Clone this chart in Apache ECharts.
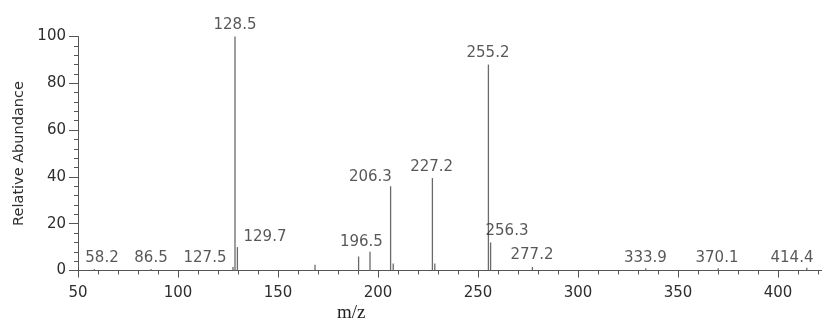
<!DOCTYPE html>
<html>
<head>
<meta charset="utf-8">
<script src="https://cdn.jsdelivr.net/npm/echarts@6/dist/echarts.min.js"></script>
<style>
html,body{margin:0;padding:0;background:#fff;}
#c{width:822px;height:329px;}
</style>
</head>
<body>
<div id="c"></div>
<script>
// Peaks (m/z, relative abundance)
var peakMz = [58.2, 86.5, 127.5, 128.5, 129.7, 168.5, 190.3, 196.0, 206.3, 207.6, 227.2, 228.4, 255.2, 256.3, 277.2, 333.9, 370.1, 414.4];
var peakAb = [0.6, 0.6, 1.5, 100, 10, 2.5, 6, 8, 36, 3, 39.5, 3, 88, 12, 1.5, 1, 1, 1.2];

// Peak annotation texts and where they sit (in m/z, abundance units)
var labelText = ["58.2", "86.5", "127.5", "128.5", "129.7", "196.5", "206.3", "227.2", "255.2", "256.3", "277.2", "333.9", "370.1", "414.4"];
var labelMz   = [62, 86.5, 113.5, 128.5, 143.5, 191.7, 196.2, 226.8, 255, 264.5, 277, 333.7, 369.5, 407];
var labelAb   = [5.3, 5.3, 5.3, 105, 14.3, 12.2, 40, 44.2, 92.8, 16.8, 6.6, 5.3, 5.3, 5.3];

// Axis ticks
var xTicks = { min: 50, max: 422, interval: 50 };
var yTicks = { min: 0, max: 100, interval: 20 };

var peakData = peakMz.map(function (m, i) { return [m, peakAb[i]]; });
var labelData = labelText.map(function (t, i) { return [labelMz[i], labelAb[i], t]; });

var axisColor = '#555';
var textColor = '#2e2e2e';
var font = 'DejaVu Sans';

var chart = echarts.init(document.getElementById('c'), null, { renderer: 'canvas' });
chart.setOption({
  animation: false,
  backgroundColor: '#fff',
  grid: { left: 78, right: 0, top: 36.5, bottom: 58.5, containLabel: false },
  xAxis: {
    type: 'value',
    min: xTicks.min, max: xTicks.max, interval: xTicks.interval,
    axisLine: { show: true, lineStyle: { color: axisColor, width: 1 } },
    axisTick: { show: true, length: 7, lineStyle: { color: axisColor } },
    minorTick: { show: true, splitNumber: 5, length: 4, lineStyle: { color: axisColor } },
    axisLabel: {
      color: textColor, fontFamily: font, fontSize: 15, margin: 15,
      showMaxLabel: false,
      formatter: function (v) { return v % xTicks.interval === 0 ? String(v) : ''; }
    },
    splitLine: { show: false },
    minorSplitLine: { show: false }
  },
  yAxis: {
    type: 'value',
    min: yTicks.min, max: yTicks.max, interval: yTicks.interval,
    name: 'Relative Abundance',
    nameLocation: 'middle',
    nameGap: 50,
    nameTextStyle: { color: textColor, fontFamily: font, fontSize: 14.5 },
    axisLine: { show: true, lineStyle: { color: axisColor, width: 1 } },
    axisTick: { show: true, length: 9, lineStyle: { color: axisColor } },
    minorTick: { show: true, splitNumber: 5, length: 4, lineStyle: { color: axisColor } },
    axisLabel: { color: textColor, fontFamily: font, fontSize: 15, margin: 12 },
    splitLine: { show: false },
    minorSplitLine: { show: false }
  },
  graphic: [{
    type: 'text',
    left: 337, top: 304,
    style: { text: 'm/z', fill: '#222', font: '19px "Liberation Serif", serif' }
  }],
  series: [
    {
      type: 'custom',
      data: peakData,
      clip: false,
      renderItem: function (params, api) {
        var p0 = api.coord([api.value(0), 0]);
        var p1 = api.coord([api.value(0), api.value(1)]);
        return {
          type: 'line',
          shape: { x1: p0[0], y1: p0[1], x2: p1[0], y2: p1[1] },
          style: { stroke: '#6a6a6a', lineWidth: 1.3 }
        };
      }
    },
    {
      type: 'scatter',
      data: labelData,
      clip: false,
      symbolSize: 1,
      itemStyle: { color: 'rgba(0,0,0,0)' },
      label: {
        show: true,
        position: 'inside',
        align: 'center',
        verticalAlign: 'middle',
        color: textColor,
        fontFamily: font,
        fontSize: 15,
        formatter: function (p) { return p.value[2]; }
      }
    }
  ]
});
</script>
</body>
</html>
